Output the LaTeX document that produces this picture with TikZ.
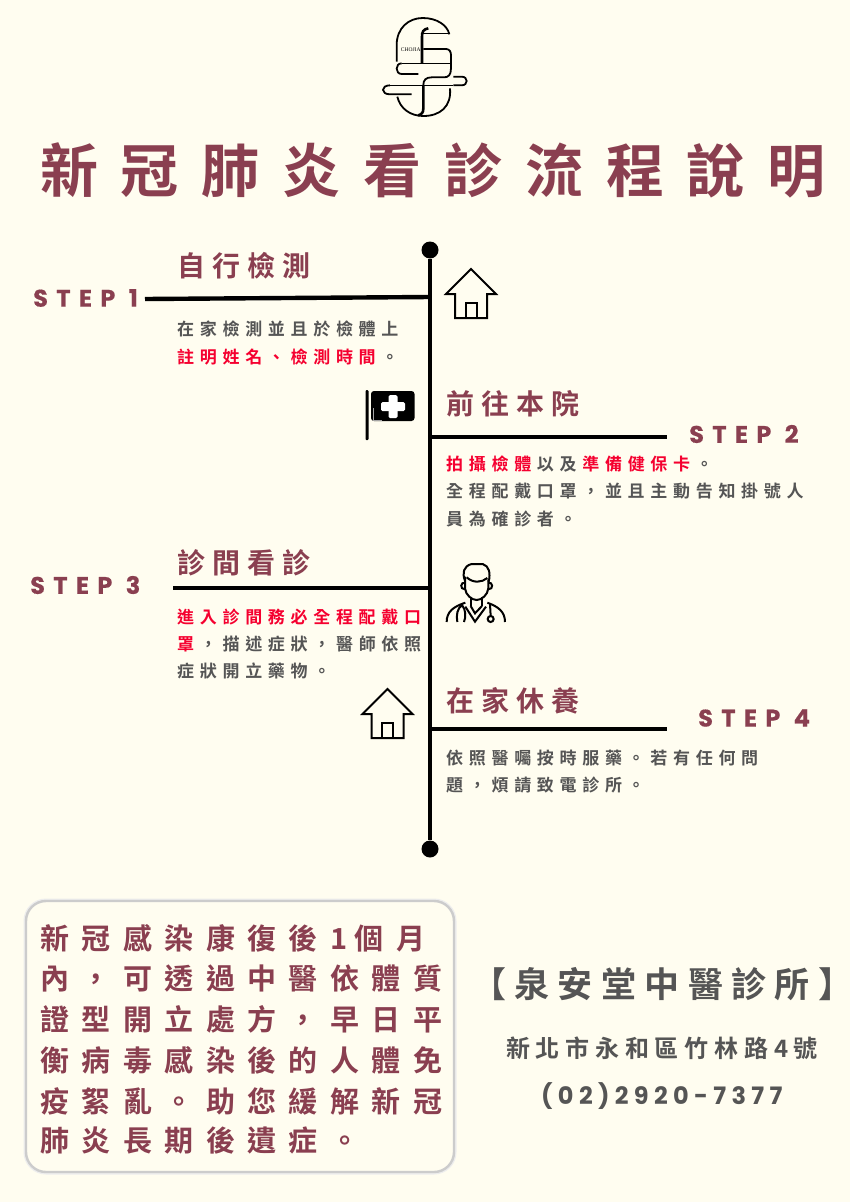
\documentclass[tikz,border=0pt]{standalone}
\usepackage{fontspec}
\usepackage{xcolor}
\setmainfont{Noto Sans CJK TC}[BoldFont={Noto Sans CJK TC Bold}]
\newfontfamily\stepfont{Poppins}[BoldFont={Poppins Bold}]
\newfontfamily\logofont{Liberation Serif}
\definecolor{wine}{HTML}{8A3F50}
\definecolor{paper}{HTML}{FFFDF0}
\definecolor{hot}{HTML}{F5002F}
\definecolor{ash}{HTML}{555555}
\newcommand{\spc}[2]{\fontsize{#1}{#1}\selectfont\addfontfeature{LetterSpace=#2}}
\newcommand{\hot}[1]{\textcolor{hot}{#1}\kern.335em}
\begin{document}
\begin{tikzpicture}[x=1pt, y=-1pt,
		tt/.style={anchor=west, inner sep=0pt, wine, font=\bfseries\spc{58}{39.4}},
		h/.style={anchor=west, inner sep=0pt, wine, font=\bfseries\spc{28}{25}},
		b/.style={anchor=west, inner sep=0pt, ash, font=\bfseries\spc{17}{33.5}},
		st/.style={anchor=west, inner sep=0pt, wine, font=\stepfont\bfseries\spc{24}{35}\addfontfeature{FakeBold=0.5}},
		bx/.style={anchor=west, inner sep=0pt, wine, font=\bfseries\spc{29}{43}},
		dot/.style={circle, fill=black, minimum size=17pt, inner sep=0pt},
		bar/.style={line width=4.4pt},
		ico/.style={line width=2pt, line join=miter},
		house/.pic={
			\draw[ico] (0,0) -- (25,25) -- (16,25) -- (16,49) -- (-16,49) -- (-16,25) -- (-25,25) -- cycle;
			\draw[ico] (-5.5,49) -- (-5.5,34) -- (5.5,34) -- (5.5,49);
		}]
	\useasboundingbox[fill=paper] (0,0) rectangle (850,1202);

	% logo
	\begin{scope}[shift={(340,0)}, scale=1/3, line width=1.8pt]
		\draw (170,185) -- (170,135) .. controls (170,85) and (205,54) .. (248,54) .. controls (290,54) and (322,75) .. (328,103);
		\draw[line width=1.2pt] (250,100) -- (328,100);
		\draw[line width=2.6pt] (265,85) .. controls (250,88) and (246,95) .. (246,110) -- (246,190);
		\draw (250,147) -- (318,147) .. controls (328,147) and (333,155) .. (333,165) -- (333,205) .. controls (333,225) and (325,232) .. (312,232) -- (275,232) .. controls (258,232) and (250,240) .. (250,255);
		\draw[line width=2.6pt] (250,255) -- (250,325) .. controls (250,338) and (245,343) .. (235,346);
		\draw[line width=1.2pt] (185,190) -- (333,190);
		\draw[line width=.7pt] (150,256) -- (340,256);
		\draw (235,222) -- (185,222) .. controls (165,222) and (165,190) .. (185,190);
		\draw (340,256) -- (365,256) .. controls (385,256) and (385,230) .. (365,230) -- (340,230);
		\draw (215,283) -- (150,283) .. controls (122,283) and (122,256) .. (150,256);
		\draw (172,290) .. controls (180,325) and (210,348) .. (250,348) .. controls (300,348) and (335,320) .. (330,265);
	\end{scope}
	\node[inner sep=0pt, font=\logofont\fontsize{5.5}{5.5}\selectfont] (logotxt) at (410.7,50) {CHOJIA};

	\node[tt] (title) at (40,170) {新冠肺炎看診流程說明};

	% timeline
	\node[dot] (top) at (430,250) {};
	\node[dot] (end) at (430,849) {};
	\draw[bar] (top) -- (end);

	\coordinate (j1) at (430,297);
	\coordinate (e1) at (145,299);
	\coordinate (j2) at (430,437);
	\coordinate (e2) at (667,437);
	\coordinate (j3) at (430,588);
	\coordinate (e3) at (173,588);
	\coordinate (j4) at (430,729);
	\coordinate (e4) at (667,729);
	\draw[bar] (e1) -- (j1);
	\draw[bar] (j2) -- (e2);
	\draw[bar] (e3) -- (j3);
	\draw[bar] (j4) -- (e4);

	% step 1
	\node[st] (s1) at (33,298) {STEP 1};
	\node[h] (h1) at (177,266) {自行檢測};
	\node[b] (b1a) at (177,329) {在家檢測並且於檢體上};
	\node[b] (b1b) at (177,357) {\hot{註明姓名、檢測時間}。};

	% step 2
	\node[st] (s2) at (689,434) {STEP 2};
	\node[h] (h2) at (446,404) {前往本院};
	\node[b] (b2a) at (446,464) {\hot{拍攝檢體}以及\kern.335em\hot{準備健保卡}。};
	\node[b] (b2b) at (446,491) {全程配戴口罩^^^^ff0c並且主動告知掛號人};
	\node[b] (b2c) at (446,519) {員為確診者。};

	% step 3
	\node[st] (s3) at (30,585) {STEP 3};
	\node[h] (h3) at (177,563) {診間看診};
	\node[b] (b3a) at (177,617) {\hot{進入診間務必全程配戴口}};
	\node[b] (b3b) at (177,644) {\hot{罩}^^^^ff0c描述症狀^^^^ff0c醫師依照};
	\node[b] (b3c) at (177,671) {症狀開立藥物。};

	% step 4
	\node[st] (s4) at (698,718) {STEP 4};
	\node[h] (h4) at (446,701) {在家休養};
	\node[b] (b4a) at (446,758) {依照醫囑按時服藥。若有任何問};
	\node[b] (b4b) at (446,785) {題^^^^ff0c煩請致電診所。};

	% icons
	\pic at (471,269) {house};
	\pic at (387.5,689) {house};

	\fill[rounded corners=1pt] (365.5,390) rectangle (368.5,440);
	\fill[rounded corners=3pt] (371,391) rectangle (414.5,421);
	\fill[white, rounded corners=1.5pt] (388.5,395) rectangle (397.5,418);
	\fill[white, rounded corners=1.5pt] (381,402) rectangle (405,411);
	\draw[gray!70, line width=.5pt] (373.5,408) -- (373.5,420) -- (382,420);

	\begin{scope}[shift={(350,550)}, scale=1/3, ico]
		\draw (345,92) .. controls (336,70) and (340,48) .. (365,42) -- (398,42) .. controls (418,48) and (422,70) .. (416,95);
		\draw (345,80) -- (345,115) .. controls (347,135) and (365,150) .. (380,150) .. controls (395,150) and (413,135) .. (415,115) -- (415,88);
		\draw (350,82) .. controls (370,100) and (395,98) .. (412,84);
		\draw (345,98) .. controls (332,95) and (328,118) .. (345,118);
		\draw (415,98) .. controls (428,95) and (432,118) .. (415,118);
		\draw (362,140) -- (362,168);
		\draw (396,140) -- (396,168);
		\draw (346,170) -- (375,215) -- (408,170);
		\draw (362,168) -- (375,190) -- (396,168);
		\draw (290,216) .. controls (290,185) and (310,170) .. (346,158);
		\draw (465,216) .. controls (465,185) and (445,170) .. (412,158);
		\draw (322,216) .. controls (318,195) and (322,175) .. (336,165) .. controls (348,180) and (348,200) .. (342,216);
		\draw (420,162) -- (422,198);
		\draw (422,207) circle[radius=9];
	\end{scope}

	% note box
	\node[draw=black!7, line width=5pt, rounded corners=20pt, inner sep=0pt, minimum width=428pt, minimum height=271pt] (noteglow) at (240,1036.5) {};
	\node[draw=black!20, line width=2.4pt, rounded corners=20pt, fill=paper, inner sep=0pt, minimum width=428pt, minimum height=271pt] (note) at (240,1036.5) {};
	\node[bx] (n1) at (40,938) {新冠感染康復後1\kern7pt 個月};
	\node[bx] (n2) at (40,979) {內^^^^ff0c可透過中醫依體質};
	\node[bx] (n3) at (40,1019) {證型開立處方^^^^ff0c早日平};
	\node[bx] (n4) at (40,1060) {衡病毒感染後的人體免};
	\node[bx] (n5) at (40,1101) {疫絮亂。助您緩解新冠};
	\node[bx] (n6) at (40,1141) {肺炎長期後遺症。};

	% clinic
	\node[anchor=west, inner sep=0pt, ash, font=\bfseries\spc{35}{24}] (cl) at (471,984) {【泉安堂中醫診所】\kern-22pt};
	\node[anchor=west, inner sep=0pt, ash, font=\bfseries\spc{24}{24}] (addr) at (506,1048) {新北市永和區竹林路4號};
	\node[anchor=west, inner sep=0pt, ash, font=\stepfont\bfseries\spc{24}{22.3}] (tel) at (541,1096) {(02)2920-7377};
\end{tikzpicture}
\end{document}
